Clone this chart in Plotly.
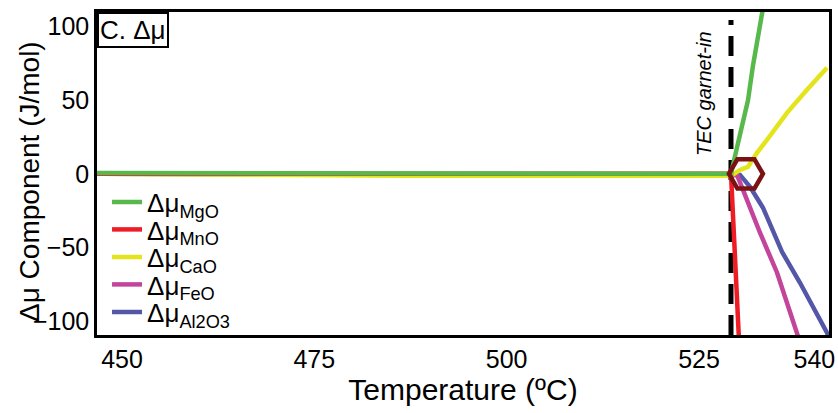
import plotly.graph_objects as go

# ---- data ----
T_mgo = [446.75, 486.8, 487.0, 529.16, 529.94, 530.72, 531.37, 532.0, 532.67, 533.4]
mu_mgo = [0.6, 0.6, 0.0, 0.0, 18, 36.7, 50, 73, 93.5, 115]

T_mno = [446.75, 529.16, 530.22]
mu_mno = [0.0, 0.0, -115]

T_cao = [446.75, 487.0, 529.2, 530.33, 531.37, 532.54, 533.84, 536.44, 539.04, 541.64]
mu_cao = [0.0, -1.2, -1.2, 2.7, 4.8, 14.3, 23.1, 41.5, 57.1, 72.1]

T_feo = [446.75, 529.5, 529.94, 530.72, 532.93, 535.14, 537.87, 538.1]
mu_feo = [0.0, 0.0, -0.7, -10.9, -40, -67, -110, -114]

T_al = [446.75, 529.5, 530.33, 531.63, 533.32, 535.79, 538.13, 541.64, 541.95]
mu_al = [0.0, 0.0, -0.7, -8.8, -23, -53, -74, -108, -112]

tec_garnet_in = 529.16
marker_T = [531.1]
marker_mu = [0.0]

x_ticks = [450, 475, 500, 525, 540]
y_ticks = [-100, -50, 0, 50, 100]

FONT = "Liberation Sans, Arial, sans-serif"

# name, x, y, colour, legend id, legend row (0 = top)
series = [
    ("Δμ<sub>Al2O3</sub>", T_al, mu_al, "#5457a8", "legend5", 4),
    ("Δμ<sub>FeO</sub>", T_feo, mu_feo, "#c2459b", "legend4", 3),
    ("Δμ<sub>CaO</sub>", T_cao, mu_cao, "#e3e41c", "legend3", 2),
    ("Δμ<sub>MnO</sub>", T_mno, mu_mno, "#ee1d25", "legend2", 1),
    ("Δμ<sub>MgO</sub>", T_mgo, mu_mgo, "#57b94b", "legend", 0),
]

PLOT_TOP, PLOT_BOTTOM = 12, 335
PLOT_H = PLOT_BOTTOM - PLOT_TOP

fig = go.Figure()
legend_layout = {}
for name, xs, ys, col, leg, row in series:
    fig.add_trace(go.Scatter(x=xs, y=ys, mode="lines", name=name, legend=leg,
                             line=dict(color=col, width=4.5)))
    ypix = 202 + row * 27.5
    legend_layout[leg] = dict(x=0.0137, y=(PLOT_BOTTOM - ypix) / PLOT_H,
                              xanchor="left", yanchor="middle",
                              bgcolor="rgba(0,0,0,0)", font=dict(size=26, family=FONT, color="black"),
                              itemwidth=30)

fig.add_trace(go.Scatter(x=marker_T, y=marker_mu, mode="markers", showlegend=False,
                         marker=dict(symbol="hexagon2-open", size=34,
                                     color="#7a1214", line=dict(width=4.5, color="#7a1214"))))

fig.add_shape(type="line", xref="x", yref="paper", x0=tec_garnet_in, x1=tec_garnet_in,
              y0=0.0, y1=0.975, line=dict(color="black", width=5, dash="20px,11px"),
              layer="below")

fig.add_annotation(x=tec_garnet_in, y=(PLOT_BOTTOM - 93) / PLOT_H, xref="x", yref="paper",
                   text="<i>TEC garnet-in</i>", textangle=-90, showarrow=False,
                   xanchor="center", yanchor="middle", xshift=-27,
                   font=dict(size=20, color="black", family=FONT))

fig.add_annotation(x=0, y=1, xref="paper", yref="paper", text="C. Δμ", showarrow=False,
                   xanchor="left", yanchor="top", bordercolor="black", borderwidth=2,
                   borderpad=1, font=dict(size=26, color="black", family=FONT), bgcolor="white")

# y-axis title
fig.add_annotation(x=(29 - 97) / 732, y=(PLOT_BOTTOM - 182) / PLOT_H, xref="paper", yref="paper",
                   text="Δμ Component (J/mol)", textangle=-90, showarrow=False,
                   xanchor="center", yanchor="middle",
                   font=dict(size=28, color="black", family=FONT))

fig.update_layout(
    width=838, height=413,
    margin=dict(l=97, r=9, t=PLOT_TOP, b=413 - PLOT_BOTTOM),
    paper_bgcolor="white", plot_bgcolor="white",
    font=dict(family=FONT, color="black"),
    showlegend=True,
    **legend_layout,
)
fig.update_xaxes(range=[446.75, 541.9], tickvals=x_ticks, showgrid=False, zeroline=False,
                 showline=True, linecolor="black", linewidth=2.5, mirror=True, automargin=False,
                 ticks="", tickfont=dict(size=25, family=FONT),
                 title=dict(text="Temperature (ºC)", font=dict(size=30, family=FONT), standoff=6))
fig.update_yaxes(range=[-109.5, 110], tickvals=y_ticks, showgrid=False, zeroline=False,
                 showline=True, linecolor="black", linewidth=2.5, mirror=True, automargin=False,
                 ticks="", tickfont=dict(size=25, family=FONT))

fig.write_html("out.html")
